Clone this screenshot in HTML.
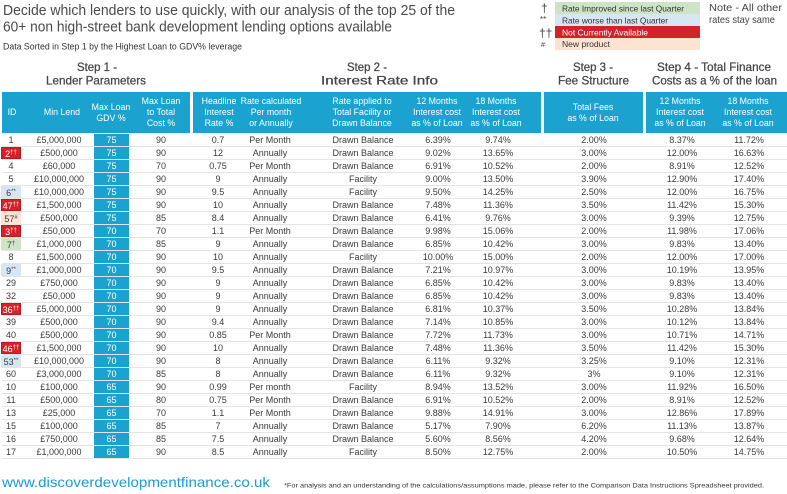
<!DOCTYPE html>
<html><head><meta charset="utf-8">
<style>
*{margin:0;padding:0;box-sizing:border-box}
html,body{width:787px;height:494px;overflow:hidden;background:#fff}
body{position:relative;font-family:"Liberation Sans",sans-serif;color:#3a3a3a}
.hb{position:absolute;top:92px;height:41px;background:#1ba2cf}
.h{position:absolute;top:92px;height:41px;display:flex;align-items:center;justify-content:center;text-align:center;color:#fff;font-size:8.8px;line-height:10.7px;white-space:nowrap}
#col{position:absolute;left:94px;top:134px;width:35px;height:325px;background:#1ba2cf}
#rows{position:absolute;left:0;top:134px;width:787px}
.r{position:relative;height:13px;border-bottom:1px solid #e4e4e4;margin-left:2px}
.r i{position:absolute;top:0;height:12px;line-height:13px;font-style:normal;font-size:9px;text-align:center;white-space:nowrap}
.r i:nth-child(1){left:-1px;width:20px}
.r i:nth-child(2){left:17px;width:80px}
.r i:nth-child(3){left:92px;width:35px;color:#fff}
.r i:nth-child(4){left:129px;width:60px}
.r i:nth-child(5){left:191px;width:50px}
.r i:nth-child(6){left:238px;width:60px}
.r i:nth-child(7){left:311px;width:100px}
.r i:nth-child(8){left:406px;width:60px}
.r i:nth-child(9){left:466px;width:60px}
.r i:nth-child(10){left:562px;width:60px}
.r i:nth-child(11){left:650px;width:60px}
.r i:nth-child(12){left:717px;width:60px}
.r i.R{background:#d42229;color:#fff;border:1px solid #b81a20;line-height:11px}
.r i.B{background:#d6e6f3}
.r i.P{background:#fde4d2}
.r i.G{background:#cfe4c6}
.r b{font-weight:normal;font-size:6px;vertical-align:3px}
svg{position:absolute;left:0;top:0}
</style></head><body>

<div class="hb" style="left:2px;width:188px"></div>
<div class="hb" style="left:193px;width:348px"></div>
<div class="hb" style="left:544px;width:99px"></div>
<div class="hb" style="left:646px;width:141px"></div>

<div class="h" style="left:2px;width:20px">ID</div>
<div class="h" style="left:32px;width:60px">Min Lend</div>
<div class="h" style="left:86px;width:50px">Max Loan<br>GDV %</div>
<div class="h" style="left:131px;width:60px">Max Loan<br>to Total<br>Cost %</div>
<div class="h" style="left:194px;width:50px">Headline<br>Interest<br>Rate %</div>
<div class="h" style="left:236px;width:70px">Rate calculated<br>Per month<br>or Annually</div>
<div class="h" style="left:312px;width:100px">Rate applied to<br>Total Facility or<br>Drawn Balance</div>
<div class="h" style="left:402px;width:70px">12 Months<br>Interest cost<br>as % of Loan</div>
<div class="h" style="left:461px;width:70px">18 Months<br>Interest cost<br>as % of Loan</div>
<div class="h" style="left:558px;width:70px">Total Fees<br>as % of Loan</div>
<div class="h" style="left:645px;width:70px">12 Months<br>Interest cost<br>as % of Loan</div>
<div class="h" style="left:713px;width:70px">18 Months<br>Interest cost<br>as % of Loan</div>

<div id="col"></div>

<div id="rows">
<div class="r"><i>1</i><i>£5,000,000</i><i>75</i><i>90</i><i>0.7</i><i>Per Month</i><i>Drawn Balance</i><i>6.39%</i><i>9.74%</i><i>2.00%</i><i>8.37%</i><i>11.72%</i></div>
<div class="r"><i class="R">2<b>††</b></i><i>£500,000</i><i>75</i><i>90</i><i>12</i><i>Annually</i><i>Drawn Balance</i><i>9.02%</i><i>13.65%</i><i>3.00%</i><i>12.00%</i><i>16.63%</i></div>
<div class="r"><i>4</i><i>£60,000</i><i>75</i><i>70</i><i>0.75</i><i>Per Month</i><i>Drawn Balance</i><i>6.91%</i><i>10.52%</i><i>2.00%</i><i>8.91%</i><i>12.52%</i></div>
<div class="r"><i>5</i><i>£10,000,000</i><i>75</i><i>90</i><i>9</i><i>Annually</i><i>Facility</i><i>9.00%</i><i>13.50%</i><i>3.90%</i><i>12.90%</i><i>17.40%</i></div>
<div class="r"><i class="B">6<b>**</b></i><i>£10,000,000</i><i>75</i><i>90</i><i>9.5</i><i>Annually</i><i>Facility</i><i>9.50%</i><i>14.25%</i><i>2.50%</i><i>12.00%</i><i>16.75%</i></div>
<div class="r"><i class="R">47<b>††</b></i><i>£1,500,000</i><i>75</i><i>90</i><i>10</i><i>Annually</i><i>Drawn Balance</i><i>7.48%</i><i>11.36%</i><i>3.50%</i><i>11.42%</i><i>15.30%</i></div>
<div class="r"><i class="P">57<b>#</b></i><i>£500,000</i><i>75</i><i>85</i><i>8.4</i><i>Annually</i><i>Drawn Balance</i><i>6.41%</i><i>9.76%</i><i>3.00%</i><i>9.39%</i><i>12.75%</i></div>
<div class="r"><i class="R">3<b>††</b></i><i>£50,000</i><i>70</i><i>70</i><i>1.1</i><i>Per Month</i><i>Drawn Balance</i><i>9.98%</i><i>15.06%</i><i>2.00%</i><i>11.98%</i><i>17.06%</i></div>
<div class="r"><i class="G">7<b>†</b></i><i>£1,000,000</i><i>70</i><i>85</i><i>9</i><i>Annually</i><i>Drawn Balance</i><i>6.85%</i><i>10.42%</i><i>3.00%</i><i>9.83%</i><i>13.40%</i></div>
<div class="r"><i>8</i><i>£1,500,000</i><i>70</i><i>90</i><i>10</i><i>Annually</i><i>Facility</i><i>10.00%</i><i>15.00%</i><i>2.00%</i><i>12.00%</i><i>17.00%</i></div>
<div class="r"><i class="B">9<b>**</b></i><i>£1,000,000</i><i>70</i><i>90</i><i>9.5</i><i>Annually</i><i>Drawn Balance</i><i>7.21%</i><i>10.97%</i><i>3.00%</i><i>10.19%</i><i>13.95%</i></div>
<div class="r"><i>29</i><i>£750,000</i><i>70</i><i>90</i><i>9</i><i>Annually</i><i>Drawn Balance</i><i>6.85%</i><i>10.42%</i><i>3.00%</i><i>9.83%</i><i>13.40%</i></div>
<div class="r"><i>32</i><i>£50,000</i><i>70</i><i>90</i><i>9</i><i>Annually</i><i>Drawn Balance</i><i>6.85%</i><i>10.42%</i><i>3.00%</i><i>9.83%</i><i>13.40%</i></div>
<div class="r"><i class="R">36<b>††</b></i><i>£5,000,000</i><i>70</i><i>90</i><i>9</i><i>Annually</i><i>Drawn Balance</i><i>6.81%</i><i>10.37%</i><i>3.50%</i><i>10.28%</i><i>13.84%</i></div>
<div class="r"><i>39</i><i>£500,000</i><i>70</i><i>90</i><i>9.4</i><i>Annually</i><i>Drawn Balance</i><i>7.14%</i><i>10.85%</i><i>3.00%</i><i>10.12%</i><i>13.84%</i></div>
<div class="r"><i>40</i><i>£500,000</i><i>70</i><i>90</i><i>0.85</i><i>Per Month</i><i>Drawn Balance</i><i>7.72%</i><i>11.73%</i><i>3.00%</i><i>10.71%</i><i>14.71%</i></div>
<div class="r"><i class="R">46<b>††</b></i><i>£1,500,000</i><i>70</i><i>90</i><i>10</i><i>Annually</i><i>Drawn Balance</i><i>7.48%</i><i>11.36%</i><i>3.50%</i><i>11.42%</i><i>15.30%</i></div>
<div class="r"><i class="B">53<b>**</b></i><i>£10,000,000</i><i>70</i><i>90</i><i>8</i><i>Annually</i><i>Drawn Balance</i><i>6.11%</i><i>9.32%</i><i>3.25%</i><i>9.10%</i><i>12.31%</i></div>
<div class="r"><i>60</i><i>£3,000,000</i><i>70</i><i>85</i><i>8</i><i>Annually</i><i>Drawn Balance</i><i>6.11%</i><i>9.32%</i><i>3%</i><i>9.10%</i><i>12.31%</i></div>
<div class="r"><i>10</i><i>£100,000</i><i>65</i><i>90</i><i>0.99</i><i>Per month</i><i>Facility</i><i>8.94%</i><i>13.52%</i><i>3.00%</i><i>11.92%</i><i>16.50%</i></div>
<div class="r"><i>11</i><i>£500,000</i><i>65</i><i>80</i><i>0.75</i><i>Per Month</i><i>Drawn Balance</i><i>6.91%</i><i>10.52%</i><i>2.00%</i><i>8.91%</i><i>12.52%</i></div>
<div class="r"><i>13</i><i>£25,000</i><i>65</i><i>70</i><i>1.1</i><i>Per Month</i><i>Drawn Balance</i><i>9.88%</i><i>14.91%</i><i>3.00%</i><i>12.86%</i><i>17.89%</i></div>
<div class="r"><i>15</i><i>£100,000</i><i>65</i><i>85</i><i>7</i><i>Annually</i><i>Drawn Balance</i><i>5.17%</i><i>7.90%</i><i>6.20%</i><i>11.13%</i><i>13.87%</i></div>
<div class="r"><i>16</i><i>£750,000</i><i>65</i><i>85</i><i>7.5</i><i>Annually</i><i>Drawn Balance</i><i>5.60%</i><i>8.56%</i><i>4.20%</i><i>9.68%</i><i>12.64%</i></div>
<div class="r"><i>17</i><i>£1,000,000</i><i>65</i><i>90</i><i>8.5</i><i>Annually</i><i>Facility</i><i>8.50%</i><i>12.75%</i><i>2.00%</i><i>10.50%</i><i>14.75%</i></div>
</div>

<svg width="787" height="494" viewBox="0 0 787 494" font-family="Liberation Sans, sans-serif">
  <!-- Title -->
  <text x="3" y="15" font-size="14.5" fill="#4a4a4a" textLength="452" lengthAdjust="spacingAndGlyphs">Decide which lenders to use quickly, with our analysis of the top 25 of the</text>
  <text x="3" y="31.5" font-size="14.5" fill="#4a4a4a" textLength="389" lengthAdjust="spacingAndGlyphs">60+ non high-street bank development lending options available</text>
  <text x="3" y="49.5" font-size="8.8" fill="#333" textLength="239" lengthAdjust="spacingAndGlyphs">Data Sorted in Step 1 by the Highest Loan to GDV% leverage</text>

  <!-- Step headings -->
  <g font-size="12" fill="#444" stroke="#444" stroke-width="0.25">
    <text x="77" y="71" textLength="40" lengthAdjust="spacingAndGlyphs">Step 1 -</text>
    <text x="46" y="84.5" textLength="100" lengthAdjust="spacingAndGlyphs">Lender Parameters</text>
    <text x="347" y="71" textLength="40" lengthAdjust="spacingAndGlyphs">Step 2 -</text>
    <text x="321" y="84.5" textLength="117" lengthAdjust="spacingAndGlyphs">Interest Rate Info</text>
    <text x="573" y="71" textLength="40" lengthAdjust="spacingAndGlyphs">Step 3 -</text>
    <text x="558" y="84.5" textLength="71" lengthAdjust="spacingAndGlyphs">Fee Structure</text>
    <text x="657" y="71" textLength="114" lengthAdjust="spacingAndGlyphs">Step 4 - Total Finance</text>
    <text x="652" y="84.5" textLength="125" lengthAdjust="spacingAndGlyphs">Costs as a % of the loan</text>
  </g>

  <!-- Legend -->
  <rect x="555" y="2" width="145" height="12" fill="#cfe4c6"/>
  <rect x="555" y="14" width="145" height="12" fill="#d6e6f3"/>
  <rect x="555" y="26" width="145" height="12" fill="#d42229"/>
  <rect x="555" y="38" width="145" height="12" fill="#fde4d2"/>
  <g fill="#444">
    <text x="541" y="12" font-size="12">†</text>
    <text x="540" y="22" font-size="8">**</text>
    <text x="539" y="37" font-size="12">††</text>
    <text x="541" y="47" font-size="7">#</text>
  </g>
  <g font-size="8.5">
    <text x="562" y="11.5" fill="#333" textLength="122" lengthAdjust="spacingAndGlyphs">Rate Improved since last Quarter</text>
    <text x="562" y="23.5" fill="#333" textLength="106" lengthAdjust="spacingAndGlyphs">Rate worse than last Quarter</text>
    <text x="562" y="35.5" fill="#fff" textLength="86" lengthAdjust="spacingAndGlyphs">Not Currently Available</text>
    <text x="562" y="47" fill="#333" textLength="48" lengthAdjust="spacingAndGlyphs">New product</text>
  </g>
  <text x="709" y="11" font-size="10.5" fill="#444" textLength="73" lengthAdjust="spacingAndGlyphs">Note - All other</text>
  <text x="709" y="23" font-size="10.5" fill="#444" textLength="66" lengthAdjust="spacingAndGlyphs">rates stay same</text>

  <!-- Footer -->
  <text x="2" y="487" font-size="14" fill="#1a9dd0" textLength="268" lengthAdjust="spacingAndGlyphs">www.discoverdevelopmentfinance.co.uk</text>
  <text x="284" y="487.5" font-size="6.8" fill="#333" textLength="480" lengthAdjust="spacingAndGlyphs">*For analysis and an understanding of the calculations/assumptions made, please refer to the Comparison Data Instructions Spreadsheet provided.</text>
</svg>
</body></html>
